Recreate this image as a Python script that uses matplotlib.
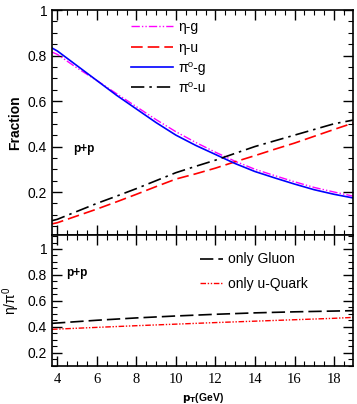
import matplotlib
matplotlib.use('Agg')
import matplotlib.pyplot as plt
from matplotlib.ticker import MultipleLocator, FormatStrFormatter

plt.rcParams['font.family'] = ['Liberation Sans', 'DejaVu Sans']
plt.rcParams['mathtext.fontset'] = 'custom'
plt.rcParams['mathtext.rm'] = 'Liberation Sans'
plt.rcParams['mathtext.it'] = 'Liberation Sans'

# pT points (GeV)
pt = [3.73, 4, 5, 6, 7, 8, 9, 10, 11, 12, 13, 14, 15, 16, 17, 18, 18.96]

# fractions, upper panel
eta_g = [0.815, 0.805, 0.745, 0.69, 0.632, 0.575, 0.518, 0.465, 0.418, 0.375,
         0.335, 0.30, 0.272, 0.245, 0.22, 0.20, 0.182]
eta_u = [0.06, 0.065, 0.095, 0.125, 0.157, 0.19, 0.224, 0.257, 0.28, 0.305,
         0.333, 0.36, 0.388, 0.415, 0.445, 0.475, 0.503]
pi0_g = [0.833, 0.82, 0.755, 0.69, 0.625, 0.565, 0.505, 0.45, 0.405, 0.365,
         0.325, 0.29, 0.262, 0.235, 0.21, 0.19, 0.174]
pi0_u = [0.074, 0.08, 0.115, 0.15, 0.182, 0.215, 0.25, 0.285, 0.313, 0.34,
         0.37, 0.40, 0.425, 0.45, 0.475, 0.50, 0.516]

# eta/pi0 ratio, lower panel
pt2 = [3.73, 6, 8, 10, 12, 14, 16, 18, 18.96]
ratio_gluon = [0.426, 0.45, 0.468, 0.483, 0.496, 0.507, 0.515, 0.521, 0.524]
ratio_quark = [0.38, 0.395, 0.408, 0.42, 0.432, 0.443, 0.454, 0.465, 0.472]

fig = plt.figure(figsize=(3.57, 4.04), dpi=100)
ax1 = fig.add_axes([0.1457, 0.4183, 0.8431, 0.5569])
ax2 = fig.add_axes([0.1457, 0.0941, 0.8431, 0.3242], sharex=ax1)

ax1.plot(pt, eta_g, color='magenta', lw=1, ls=(0, (6, 1.5, 1, 1.5, 1, 1.5)), label='η-g')
ax1.plot(pt, eta_u, color='red', lw=1.2, ls=(0, (7, 3)), label='η-u')
ax1.plot(pt, pi0_g, color='blue', lw=1.2, label='π⁰-g')
ax1.plot(pt, pi0_u, color='black', lw=1.2, ls=(0, (8, 3, 1.5, 3)), label='π⁰-u')

ax1.set_xlim(3.73, 18.96)
ax1.set_ylim(0.011, 1)
ax1.set_ylabel('Fraction', fontsize=10, fontweight='bold')
ax1.text(4.8, 0.375, 'p+p', fontsize=8.5, fontweight='bold')
ax1.legend(loc='upper left', bbox_to_anchor=(0.24, 0.985), frameon=False, fontsize=10,
           handlelength=3.0, handletextpad=0.4, labelspacing=0.45, borderpad=0)
ax1.yaxis.set_major_locator(MultipleLocator(0.2))
ax1.yaxis.set_minor_locator(MultipleLocator(0.05))
ax1.tick_params(labelbottom=False)

ax2.plot(pt2, ratio_gluon, color='black', lw=1.2, ls=(0, (8, 3)), label='only Gluon')
ax2.plot(pt2, ratio_quark, color='red', lw=1, ls=(0, (4, 1.2, 1, 1.2, 1, 1.2)), label='only u-Quark')
ax2.set_ylim(0.097, 1.108)
ax2.set_ylabel(r'$\eta/\pi^0$', fontsize=10)
ax2.set_xlabel(r'$\mathbf{p_T}$(GeV)', fontsize=7.5, fontweight='bold')
ax2.text(4.45, 0.79, 'p+p', fontsize=8.5, fontweight='bold')
ax2.legend(loc='upper left', bbox_to_anchor=(0.47, 0.92), frameon=False, fontsize=10,
           handlelength=1.6, handletextpad=0.4, labelspacing=0.75, borderpad=0)
ax2.xaxis.set_major_locator(MultipleLocator(2))
ax2.xaxis.set_minor_locator(MultipleLocator(0.5))
ax2.yaxis.set_major_locator(MultipleLocator(0.2))
ax2.yaxis.set_minor_locator(MultipleLocator(0.05))

for ax in (ax1, ax2):
    ax.yaxis.set_major_formatter(FormatStrFormatter('%g'))
    ax.tick_params(which='both', direction='in', top=True, right=True, labelsize=10)
    ax.tick_params(which='major', length=7, width=1)
    ax.tick_params(which='minor', length=3.5, width=0.8)
    for s in ax.spines.values():
        s.set_linewidth(1.2)
ax2.tick_params(axis='x', labelsize=10.5, pad=5, labelfontfamily='Liberation Serif')

fig.savefig('out.png', dpi=100)
